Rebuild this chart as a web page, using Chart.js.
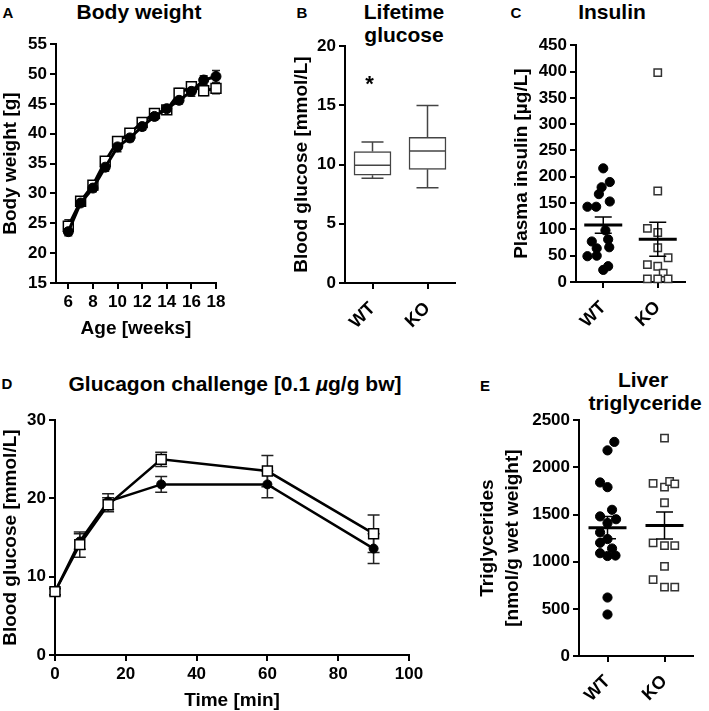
<!DOCTYPE html>
<html>
<head>
<meta charset="utf-8">
<script src="https://cdn.jsdelivr.net/npm/chart.js@4.4.1/dist/chart.umd.min.js"></script>
<style>
	body { margin: 0; background: #fff; width: 709px; height: 711px; position: relative; overflow: hidden;
		font-family: 'Liberation Sans', Arial, Helvetica, sans-serif; font-weight: bold; color: #000; }
	canvas { position: absolute; }
	.txt { position: absolute; line-height: 1; white-space: nowrap; transform: translate(-50%, -50%); }
	.letter { font-size: 15px; }
	.title { font-size: 21px; }
</style>
</head>
<body>
<div class="txt letter" style="left:8px;top:12px">A</div>
<div class="txt letter" style="left:302px;top:12px">B</div>
<div class="txt letter" style="left:516px;top:12px">C</div>
<div class="txt letter" style="left:7px;top:383px">D</div>
<div class="txt letter" style="left:485px;top:385px">E</div>

<div class="txt title" style="left:139px;top:11px">Body weight</div>
<div class="txt title" style="left:404px;top:11px">Lifetime</div>
<div class="txt title" style="left:404px;top:34px">glucose</div>
<div class="txt title" style="left:612px;top:11px">Insulin</div>
<div class="txt title" style="left:235px;top:383px">Glucagon challenge [0.1 <i>µ</i>g/g bw]</div>
<div class="txt title" style="left:643px;top:379px">Liver</div>
<div class="txt title" style="left:645px;top:402px">triglyceride</div>

<script>
// A - body weight
const ageWeeks = [6, 7, 8, 9, 10, 11, 12, 13, 14, 15, 16, 17, 18];
const ageTicks = [6, 8, 10, 12, 14, 16, 18];
const weightWT = [23.6, 28.4, 30.9, 34.4, 37.8, 39.3, 41.2, 42.9, 44.2, 45.6, 47.1, 49.0, 49.6];
const weightWTErr = [0.7, 0.5, 0.6, 0.7, 0.8, 0.6, 0.6, 0.6, 0.5, 0.6, 0.8, 0.7, 1.0];
const weightKO = [24.5, 28.7, 31.4, 35.4, 38.7, 40.1, 41.9, 43.4, 44.0, 46.8, 47.9, 47.2, 47.6];
const weightKOErr = [1.1, 0.6, 0.6, 0.7, 0.8, 0.7, 0.7, 0.7, 0.6, 0.8, 0.8, 0.8, 0.9];

// B - lifetime glucose (box plot)
const groups = ['WT', 'KO'];
const glucoseMin = [8.85, 8.05];
const glucoseQ1 = [9.1, 9.6];
const glucoseMedian = [9.95, 11.15];
const glucoseQ3 = [11.1, 12.3];
const glucoseMax = [11.9, 15.0];
const glucoseStarLevel = 17.3;

// C - plasma insulin
const insulinWT = [216, 190, 180, 167, 143, 143, 153, 98, 77, 81, 64, 66, 49, 50, 30, 23];
const insulinWTJitter = [0, 0.12, -0.03, -0.08, -0.29, -0.13, 0.12, 0.04, -0.21, 0.09, -0.12, 0.11, -0.29, -0.12, 0.09, 0];
const insulinKO = [398, 173, 102, 94, 65, 46, 33, 30, 17, 6, 6, 6];
const insulinKOJitter = [0, 0, -0.19, 0, 0, 0.19, -0.19, 0, 0.1, -0.19, 0, 0.19];

// D - glucagon challenge
const timeMin = [0, 7, 15, 30, 60, 90];
const timeTicks = [0, 20, 40, 60, 80, 100];
const challengeWT = [8.1, 14.5, 19.6, 21.8, 21.8, 13.6];
const challengeWTErr = [0.4, 1.0, 1.0, 1.0, 1.7, 1.9];
const challengeKO = [8.1, 14.1, 19.2, 25.0, 23.5, 15.5];
const challengeKOErr = [0.4, 1.6, 0.9, 0.9, 2.0, 2.4];

// E - liver triglyceride
const trigWT = [2270, 2180, 1840, 1790, 1550, 1480, 1450, 1410, 1310, 1240, 1200, 1140, 1090, 1060, 1065, 620, 440];
const trigWTJitter = [0.12, 0, -0.13, 0, 0.08, -0.13, 0.15, 0, -0.13, 0, -0.13, 0.08, -0.13, 0, 0.14, 0, 0];
const trigKO = [2310, 1830, 1790, 1850, 1825, 1625, 1200, 1170, 1170, 950, 810, 730, 730];
const trigKOJitter = [0, -0.2, 0, 0.09, 0.18, 0, -0.2, 0, 0.18, 0, -0.2, 0, 0.18];

const FONT = "'Liberation Sans', Arial, Helvetica, sans-serif";
Chart.defaults.font.family = FONT;
Chart.defaults.font.weight = 'bold';
Chart.defaults.color = '#000';

const pts = (xs, ys) => xs.map((x, i) => ({ x: x, y: ys[i] }));

function axisLine() {
	return {
		grid: { drawOnChartArea: false, drawTicks: true, tickLength: 6, color: '#000', lineWidth: 2, offset: false },
		border: { display: true, color: '#000', width: 2 },
	};
}

function yScale(min, max, step, title, width, lineHeight) {
	return {
		type: 'linear', position: 'left', min: min, max: max,
		ticks: { stepSize: step, font: { size: 17 }, padding: 3, autoSkip: false, callback: (v) => String(v) },
		...axisLine(),
		title: { display: true, text: title, font: { size: 19, lineHeight: lineHeight || 1.1 }, padding: 0 },
		afterFit: (s) => { s.width = width; },
	};
}

function xScale(min, max, tickValues, labels, title, height, rotation) {
	return {
		type: 'linear', position: 'bottom', min: min, max: max, offset: false,
		afterBuildTicks: (s) => { s.ticks = tickValues.map((v) => ({ value: v })); },
		ticks: {
			autoSkip: false, minRotation: rotation, maxRotation: rotation,
			font: { size: rotation ? 18 : 17 }, padding: rotation ? 9 : 3,
			callback: labels ? (v) => labels[v - 1] : (v) => String(v),
		},
		...axisLine(),
		title: title ? { display: true, text: title, font: { size: 19, lineHeight: 1.1 }, padding: 0 } : { display: false },
		afterFit: (s) => { s.height = height; },
	};
}

// error bars drawn under the markers
const errorBars = {
	id: 'errorBars',
	beforeDatasetsDraw(chart, args, opts) {
		const { ctx, scales: { x, y } } = chart;
		ctx.save();
		ctx.strokeStyle = '#222';
		ctx.lineWidth = 1.5;
		chart.data.datasets.forEach((ds) => {
			if (!ds.errors) return;
			ds.data.forEach((p, i) => {
				const px = x.getPixelForValue(p.x);
				const top = y.getPixelForValue(p.y + ds.errors[i]);
				const bot = y.getPixelForValue(p.y - ds.errors[i]);
				ctx.beginPath();
				ctx.moveTo(px, top); ctx.lineTo(px, bot);
				ctx.moveTo(px - opts.cap, top); ctx.lineTo(px + opts.cap, top);
				ctx.moveTo(px - opts.cap, bot); ctx.lineTo(px + opts.cap, bot);
				ctx.stroke();
			});
		});
		ctx.restore();
	},
};

// mean +- SEM for the dot plots
const meanSem = {
	id: 'meanSem',
	afterDatasetsDraw(chart) {
		const { ctx, scales: { x, y } } = chart;
		ctx.save();
		ctx.strokeStyle = '#000';
		chart.data.datasets.forEach((ds) => {
			const vals = ds.data.map((p) => p.y);
			const n = vals.length;
			const mean = vals.reduce((a, b) => a + b, 0) / n;
			const sd = Math.sqrt(vals.reduce((a, b) => a + (b - mean) * (b - mean), 0) / (n - 1));
			const sem = sd / Math.sqrt(n);
			const px = x.getPixelForValue(ds.center);
			const pm = y.getPixelForValue(mean);
			const pt = y.getPixelForValue(mean + sem);
			const pb = y.getPixelForValue(mean - sem);
			ctx.lineWidth = 3;
			ctx.beginPath();
			ctx.moveTo(px - 19, pm); ctx.lineTo(px + 19, pm);
			ctx.stroke();
			ctx.lineWidth = 1.5;
			ctx.beginPath();
			ctx.moveTo(px, pt); ctx.lineTo(px, pb);
			ctx.moveTo(px - 8.5, pt); ctx.lineTo(px + 8.5, pt);
			ctx.moveTo(px - 8.5, pb); ctx.lineTo(px + 8.5, pb);
			ctx.stroke();
		});
		ctx.restore();
	},
};

// whiskers, median and the significance star for panel B
const boxWhiskers = {
	id: 'boxWhiskers',
	afterDatasetsDraw(chart) {
		const { ctx, scales: { x, y } } = chart;
		ctx.save();
		ctx.strokeStyle = '#444';
		ctx.lineWidth = 1.5;
		groups.forEach((g, i) => {
			const px = x.getPixelForValue(i + 1);
			const ymax = y.getPixelForValue(glucoseMax[i]);
			const yq3 = y.getPixelForValue(glucoseQ3[i]);
			const ymed = y.getPixelForValue(glucoseMedian[i]);
			const yq1 = y.getPixelForValue(glucoseQ1[i]);
			const ymin = y.getPixelForValue(glucoseMin[i]);
			ctx.beginPath();
			ctx.moveTo(px, yq3); ctx.lineTo(px, ymax);
			ctx.moveTo(px - 11, ymax); ctx.lineTo(px + 11, ymax);
			ctx.moveTo(px, yq1); ctx.lineTo(px, ymin);
			ctx.moveTo(px - 11, ymin); ctx.lineTo(px + 11, ymin);
			ctx.moveTo(px - 18.5, ymed); ctx.lineTo(px + 18.5, ymed);
			ctx.stroke();
		});
		ctx.fillStyle = '#000';
		ctx.font = 'bold 22px ' + FONT;
		ctx.textAlign = 'center';
		ctx.textBaseline = 'alphabetic';
		ctx.fillText('*', x.getPixelForValue(1) - 3, y.getPixelForValue(glucoseStarLevel) + 12.5);
		ctx.restore();
	},
};

function makeChart(box, datasets, scales, plugins, pluginOpts) {
	const canvas = document.createElement('canvas');
	canvas.width = box.w;
	canvas.height = box.h;
	canvas.style.left = box.x + 'px';
	canvas.style.top = box.y + 'px';
	canvas.style.width = box.w + 'px';
	canvas.style.height = box.h + 'px';
	document.body.appendChild(canvas);
	return new Chart(canvas.getContext('2d'), {
		type: 'scatter',
		data: { datasets: datasets },
		options: {
			responsive: false,
			animation: false,
			devicePixelRatio: 1,
			layout: { padding: { left: 0, top: 12, right: box.right, bottom: 0 } },
			plugins: Object.assign({ legend: { display: false }, tooltip: { enabled: false } }, pluginOpts || {}),
			scales: scales,
		},
		plugins: plugins,
	});
}

function lineSet(xs, ys, errs, filled, radius, width, order) {
	return {
		data: pts(xs, ys),
		errors: errs,
		showLine: true,
		borderColor: '#000',
		borderWidth: width,
		pointStyle: filled ? 'circle' : 'rect',
		pointRadius: radius,
		pointBackgroundColor: filled ? '#000' : '#fff',
		pointBorderColor: '#000',
		pointBorderWidth: filled ? 1 : 1.5,
		clip: false,
		order: order,
	};
}

function dotSet(center, jitter, ys, filled) {
	return {
		data: pts(ys.map((_, i) => center + jitter[i]), ys),
		center: center,
		pointStyle: filled ? 'circle' : 'rect',
		pointRadius: filled ? 4.6 : 5.2,
		pointBackgroundColor: filled ? '#000' : '#fff',
		pointBorderColor: filled ? '#000' : '#333',
		pointBorderWidth: filled ? 1 : 1.5,
		clip: false,
	};
}

// A
makeChart({ x: 0, y: 31, w: 234, h: 308, right: 18 },
	[
		lineSet(ageWeeks, weightWT, weightWTErr, true, 5, 3, 0),
		lineSet(ageWeeks, weightKO, weightKOErr, false, 7, 3, 1),
	],
	{
		x: xScale(5, 18, ageTicks, null, 'Age [weeks]', 56, 0),
		y: yScale(15, 55, 5, 'Body weight [g]', 56),
	},
	[errorBars], { errorBars: { cap: 4 } });

// B
makeChart({ x: 291, y: 33, w: 178, h: 312, right: 14 },
	[{
		type: 'bar',
		data: groups.map((g, i) => ({ x: i + 1, y: [glucoseQ1[i], glucoseQ3[i]] })),
		barThickness: 37,
		backgroundColor: '#fff',
		borderColor: '#444',
		borderWidth: 1.5,
		borderSkipped: false,
	}],
	{
		x: xScale(0.5, 2.5, [1, 2], groups, null, 62, 45),
		y: yScale(0, 20, 5, 'Blood glucose [mmol/L]', 54),
	},
	[boxWhiskers]);

// C
makeChart({ x: 511, y: 32, w: 190, h: 313, right: 16 },
	[dotSet(1, insulinWTJitter, insulinWT, true), dotSet(2, insulinKOJitter, insulinKO, false)],
	{
		x: xScale(0.5, 2.5, [1, 2], groups, null, 63, 45),
		y: yScale(0, 450, 50, 'Plasma insulin [µg/L]', 65),
	},
	[meanSem]);

// D
makeChart({ x: 0, y: 407, w: 431, h: 304, right: 22 },
	[
		lineSet(timeMin, challengeWT, challengeWTErr, true, 4.5, 2.5, 1),
		lineSet(timeMin, challengeKO, challengeKOErr, false, 7, 2.5, 0),
	],
	{
		x: xScale(0, 100, timeTicks, null, 'Time [min]', 56, 0),
		y: yScale(0, 30, 10, 'Blood glucose [mmol/L]', 55),
	},
	[errorBars], { errorBars: { cap: 6 } });

// E
makeChart({ x: 475, y: 407, w: 232, h: 304, right: 14 },
	[dotSet(1, trigWTJitter, trigWT, true), dotSet(2, trigKOJitter, trigKO, false)],
	{
		x: xScale(0.5, 2.5, [1, 2], groups, null, 55, 45),
		y: yScale(0, 2500, 500, ['Triglycerides', '[nmol/g wet weight]'], 104, 1.32),
	},
	[meanSem]);
</script>
</body>
</html>
